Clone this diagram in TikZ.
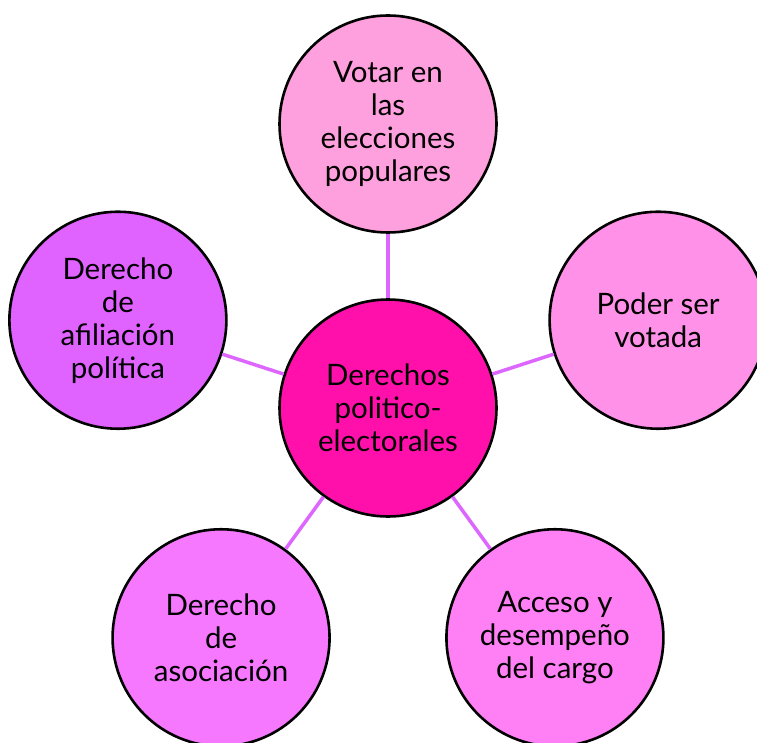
\documentclass[tikz,border=0pt]{standalone}
\usepackage{fontspec}
\setmainfont{Lato}
\usetikzlibrary{calc}

\definecolor{hubpink}{RGB}{255,16,170}
\definecolor{votarpink}{RGB}{255,160,222}
\definecolor{poderpink}{RGB}{255,145,232}
\definecolor{afilviolet}{RGB}{224,98,255}
\definecolor{asocpink}{RGB}{245,120,255}
\definecolor{cargopink}{RGB}{255,128,245}
\definecolor{spokeviolet}{RGB}{221,102,255}

\tikzset{
  bubble/.style={circle, draw=black, line width=2.6pt, minimum size=217pt,
    inner sep=0pt, align=center, font=\fontsize{29.5}{33}\selectfont},
  spoke/.style={draw=spokeviolet, line width=3.5pt}
}

\begin{document}
\begin{tikzpicture}[x=1pt,y=1pt]

          \useasboundingbox (0,0) rectangle (757,-743);

          \node[bubble, fill=hubpink] (hub) at (388,-408) {Derechos\\politico-\\electorales};

          \node[bubble, fill=votarpink] (votar) at ($(hub)+(90:284)$) {Votar en\\las\\elecciones\\populares};
          \node[bubble, fill=poderpink] (poder) at ($(hub)+(18:284)$) {Poder ser\\votada};
          \node[bubble, fill=cargopink] (cargo) at ($(hub)+(-54:284)$) {Acceso y\\desempeño\\del cargo};
          \node[bubble, fill=asocpink] (asoc) at ($(hub)+(-126:284)$) {Derecho\\de\\asociación};
          \node[bubble, fill=afilviolet] (afil) at ($(hub)+(162:284)$) {Derecho\\de\\afiliación\\política};

          \foreach \leaf in {votar,poder,cargo,asoc,afil}
            \draw[spoke] (hub) -- (\leaf);

        \end{tikzpicture}
\end{document}
